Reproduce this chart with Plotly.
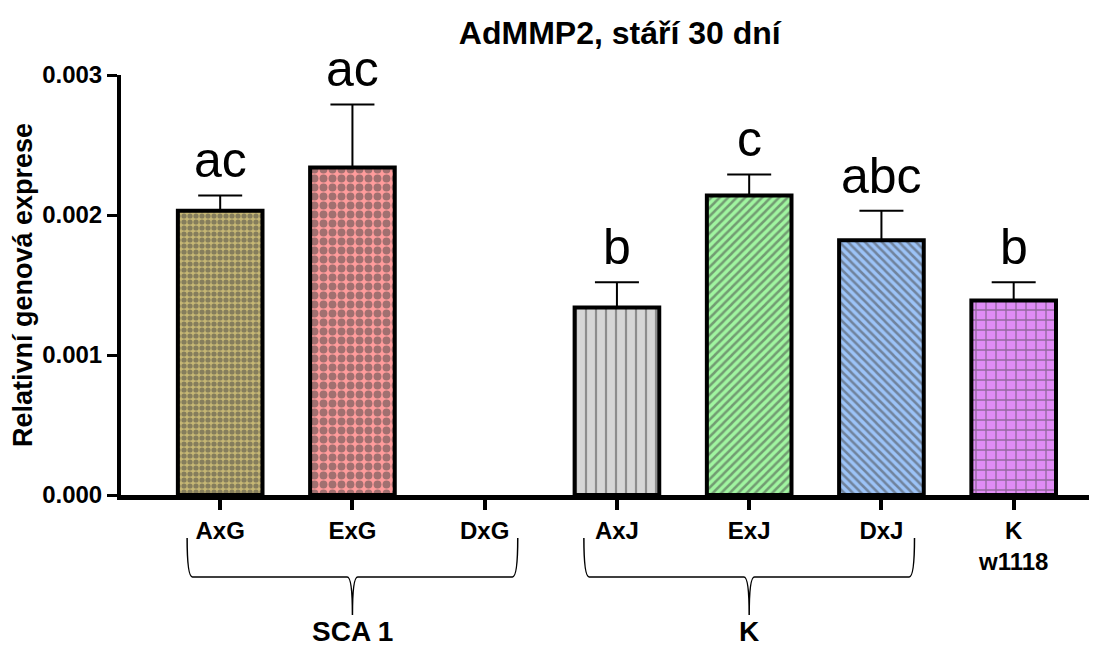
import plotly.graph_objects as go

# ---- data ----
categories = ["AxG", "ExG", "DxG", "AxJ", "ExJ", "DxJ", "K<br>w1118"]
means = [0.00203, 0.00234, None, 0.00134, 0.00214, 0.00182, 0.00139]
errors = [0.00011, 0.00045, None, 0.00018, 0.00015, 0.00021, 0.00013]
letters = ["ac", "ac", "", "b", "c", "abc", "b"]
groups = [("SCA 1", 0, 2), ("K", 3, 5)]

fill_colors = ["#c6b774", "#ff9c9c", "#ffffff", "#d6d6d6", "#a0f5a0", "#9cc3f7", "#e08cf5"]
pattern_shapes = [".", ".", "", "|", "/", "\\", "+"]
pattern_sizes = [6, 9, 8, 10, 6, 6, 10]
pattern_solid = [0.6, 0.6, 0.3, 0.22, 0.42, 0.42, 0.25]

FONT = "Arial, Liberation Sans, sans-serif"
xs = list(range(len(categories)))

fig = go.Figure()
fig.add_trace(go.Bar(
    x=xs, y=means, width=0.64,
    marker=dict(
        color=fill_colors,
        line=dict(color="black", width=4),
        pattern=dict(shape=pattern_shapes, size=pattern_sizes,
                     solidity=pattern_solid, fgcolor="black",
                     fillmode="overlay"),
    ),
    error_y=dict(type="data", array=errors, arrayminus=[0] * len(errors),
                 symmetric=False, color="black", thickness=2, width=22),
    showlegend=False,
))

for x, m, e, t in zip(xs, means, errors, letters):
    if m is None or not t:
        continue
    fig.add_annotation(x=x, y=m + e, xref="x", yref="y", text=t,
                       showarrow=False, yanchor="bottom", yshift=5,
                       font=dict(family=FONT, size=50, color="black"))

# braces
yt, ym, yb = -0.1024, -0.195, -0.2857
for name, i0, i1 in groups:
    x0, x1 = i0 - 0.25, i1 + 0.25
    xm = (i0 + i1) / 2
    d = 0.04
    path = (f"M {x0},{yt} Q {x0},{ym} {x0 + d},{ym} "
            f"L {xm - d},{ym} Q {xm},{ym} {xm},{yb} "
            f"Q {xm},{ym} {xm + d},{ym} L {x1 - d},{ym} "
            f"Q {x1},{ym} {x1},{yt}")
    fig.add_shape(type="path", path=path, xref="x", yref="paper",
                  line=dict(color="black", width=1.5))
    fig.add_annotation(x=xm, y=-0.326, xref="x", yref="paper", text=name,
                       showarrow=False, yanchor="middle",
                       font=dict(family=FONT, size=28, color="black", weight="bold"))

fig.update_layout(
    width=1089, height=641,
    margin=dict(l=107, r=0, t=67, b=154),
    paper_bgcolor="white", plot_bgcolor="white",
    font=dict(family=FONT, color="black"),
    title=dict(text="<b>AdMMP2, stáří 30 dní</b>", x=0.511, xref="paper",
               y=1 - 25 / 641, yref="container", xanchor="center", yanchor="middle",
               font=dict(family=FONT, size=32, color="black")),
)
fig.update_xaxes(
    range=[-0.75, 6.63], tickvals=xs, ticktext=[f"<b>{c}</b>" for c in categories],
    showline=True, linecolor="black", linewidth=5, ticks="outside",
    ticklen=10, tickwidth=4, tickcolor="black", showgrid=False, zeroline=False,
    tickfont=dict(family=FONT, size=24, color="black"),
)
fig.update_yaxes(
    range=[0, 0.003], dtick=0.001, tickformat=".3f",
    showline=True, linecolor="black", linewidth=4, ticks="outside",
    ticklen=10, tickwidth=3, tickcolor="black", showgrid=False, zeroline=False,
    tickfont=dict(family=FONT, size=24, color="black", weight="bold"),
    title=dict(text="<b>Relativní genová exprese</b>",
               font=dict(family=FONT, size=27, color="black")),
)

fig.write_html("out.html")
